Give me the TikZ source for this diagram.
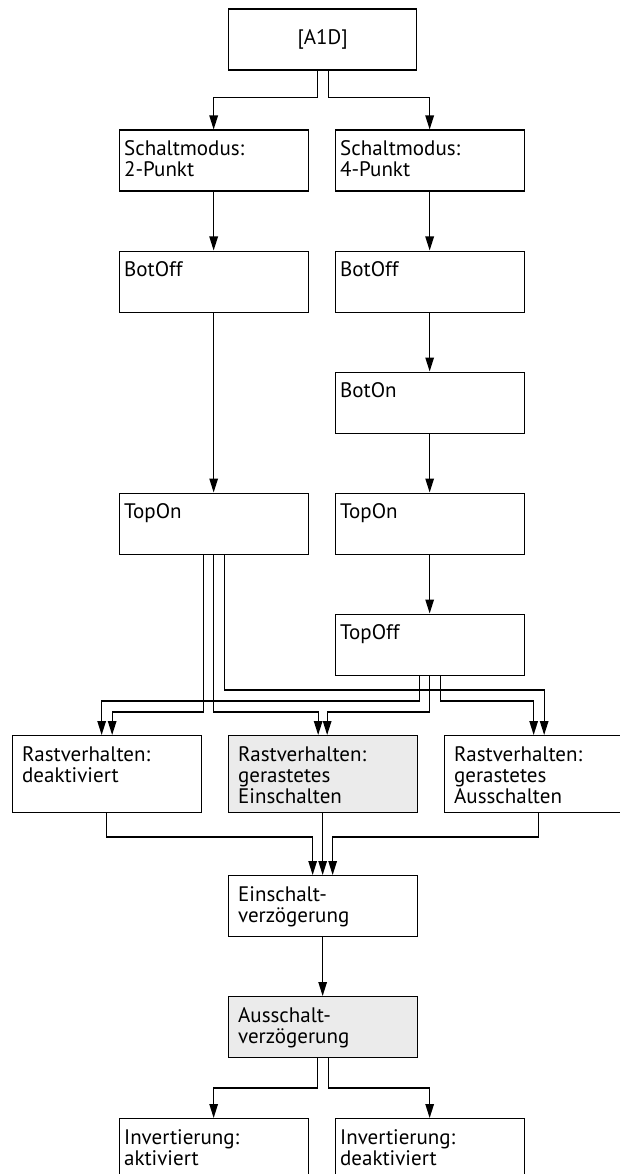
\documentclass[tikz,border=0pt]{standalone}
\usepackage{fontspec}
\setmainfont{PT Sans}
\usetikzlibrary{arrows.meta}
\definecolor{boxgray}{HTML}{EBEBEB}
\newcommand{\bxt}[4]{\parbox[t][#2][t]{#1}{\raggedright\leftskip=#3\relax\rule{0pt}{25.5pt}#4}}
\begin{document}
\begin{tikzpicture}[x=1pt,y=-1pt,
  bx/.style={draw, line width=1.3pt, inner sep=0pt, anchor=north west, font=\fontsize{21}{21}\selectfont},
  grey/.style={fill=boxgray},
  arr/.style={draw, line width=1.3pt, -{Triangle[length=14pt,width=8.5pt]}}]
\useasboundingbox (0,0) rectangle (620,1174);
% boxes
\node[bx, minimum width=188pt, minimum height=61pt, anchor=north west, align=center] (a1d) at (228,8.5) {[A1D]};
\node[bx] (s2) at (118.5,129.5) {\bxt{189pt}{61pt}{5pt}{Schaltmodus:\\2-Punkt}};
\node[bx] (s4) at (334.5,129.5) {\bxt{189pt}{61pt}{5pt}{Schaltmodus:\\4-Punkt}};
\node[bx] (bol) at (118.5,250.5) {\bxt{189pt}{61pt}{5pt}{BotOff}};
\node[bx] (bor) at (334.5,250.5) {\bxt{189pt}{61pt}{5pt}{BotOff}};
\node[bx] (bon) at (334.5,371.5) {\bxt{189pt}{61pt}{5pt}{BotOn}};
\node[bx] (tonl) at (118.5,492.5) {\bxt{189pt}{61pt}{5pt}{TopOn}};
\node[bx] (tonr) at (334.5,492.5) {\bxt{189pt}{61pt}{5pt}{TopOn}};
\node[bx] (toff) at (334.5,613.5) {\bxt{189pt}{61pt}{5pt}{TopOff}};
\node[bx] (rd) at (11.5,735) {\bxt{189pt}{77pt}{10pt}{Rastverhalten:\\deaktiviert}};
\node[bx, grey] (re) at (227.5,735) {\bxt{189pt}{77pt}{10pt}{Rastverhalten:\\gerastetes\\Einschalten}};
\node[bx] (ra) at (443.5,735) {\bxt{189pt}{77pt}{10pt}{Rastverhalten:\\gerastetes\\Ausschalten}};
\node[bx] (ez) at (227.5,875) {\bxt{189pt}{61pt}{10pt}{Einschalt-\\verzögerung}};
\node[bx, grey] (az) at (227.5,996) {\bxt{189pt}{61pt}{10pt}{Ausschalt-\\verzögerung}};
\node[bx] (ia) at (118.5,1118) {\bxt{189pt}{61pt}{5pt}{Invertierung:\\aktiviert}};
\node[bx] (id) at (334.5,1118) {\bxt{189pt}{61pt}{5pt}{Invertierung:\\deaktiviert}};
% helper levels
\coordinate (ha) at (0,97.5);
\coordinate (h1) at (0,690);
\coordinate (h2) at (0,701);
\coordinate (h3) at (0,712);
\coordinate (hm) at (0,837);
\coordinate (hb) at (0,1088);
% A1D split
\coordinate (a1) at ([xshift=-5.5pt]a1d.south);
\coordinate (a2) at ([xshift=5.5pt]a1d.south);
\draw[arr] (a1) -- (a1 |- ha) -| (s2.north);
\draw[arr] (a2) -- (a2 |- ha) -| (s4.north);
% chains
\draw[arr] (s2.south) -- (bol.north);
\draw[arr] (bol.south) -- (tonl.north);
\draw[arr] (s4.south) -- (bor.north);
\draw[arr] (bor.south) -- (bon.north);
\draw[arr] (bon.south) -- (tonr.north);
\draw[arr] (tonr.south) -- (toff.north);
% TopOn (left) outputs
\coordinate (t1) at ([xshift=-10.5pt]tonl.south);
\coordinate (t2) at (tonl.south);
\coordinate (t3) at ([xshift=10.5pt]tonl.south);
\draw[arr] (t1) -- (t1 |- h3) -| ([xshift=5.5pt]rd.north);
\draw[arr] (t2) -- (t2 |- h3) -| ([xshift=-4.5pt]re.north);
\draw[arr] (t3) -- (t3 |- h1) -| ([xshift=5.5pt]ra.north);
% TopOff outputs
\coordinate (f1) at ([xshift=-10.5pt]toff.south);
\coordinate (f2) at (toff.south);
\coordinate (f3) at ([xshift=10.5pt]toff.south);
\draw[arr] (f1) -- (f1 |- h2) -| ([xshift=-5pt]rd.north);
\draw[arr] (f2) -- (f2 |- h3) -| ([xshift=4.5pt]re.north);
\draw[arr] (f3) -- (f3 |- h2) -| ([xshift=-5pt]ra.north);
% merge
\draw[arr] (rd.south) -- (rd.south |- hm) -| ([xshift=-10pt]ez.north);
\draw[arr] (re.south) -- (ez.north);
\draw[arr] (ra.south) -- (ra.south |- hm) -| ([xshift=10pt]ez.north);
\draw[arr] (ez.south) -- (az.north);
% Ausschalt split
\coordinate (b1) at ([xshift=-5.5pt]az.south);
\coordinate (b2) at ([xshift=5.5pt]az.south);
\draw[arr] (b1) -- (b1 |- hb) -| (ia.north);
\draw[arr] (b2) -- (b2 |- hb) -| (id.north);
\end{tikzpicture}
\end{document}
